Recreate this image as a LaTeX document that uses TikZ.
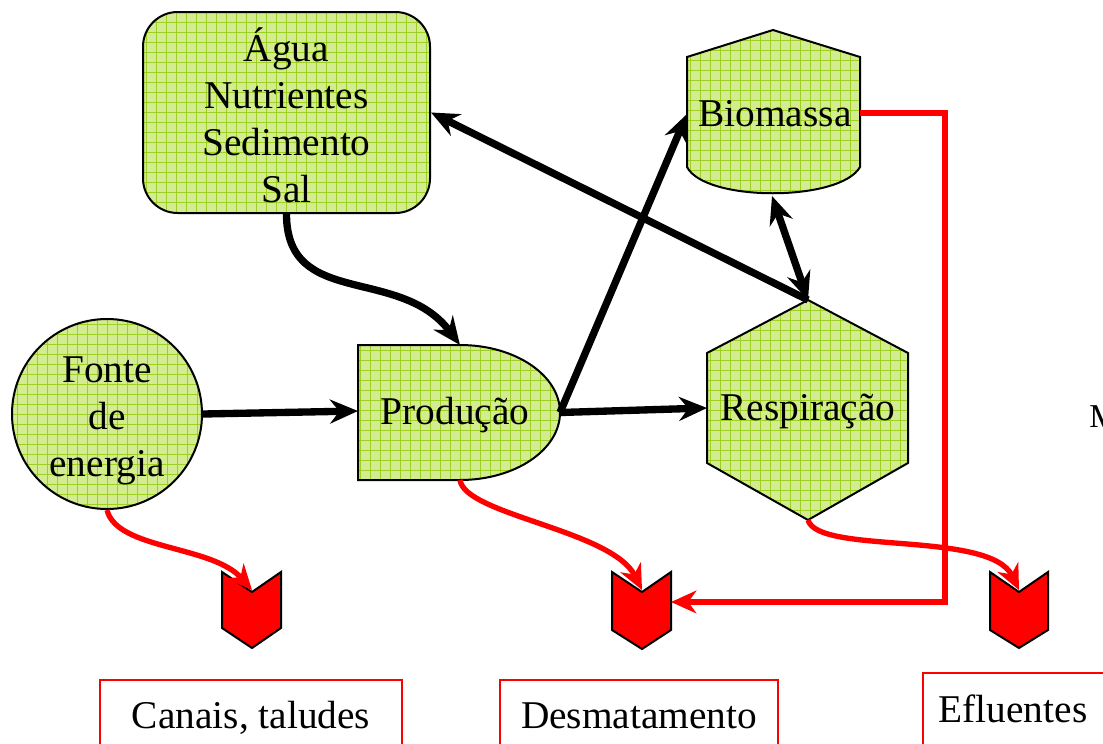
\documentclass[tikz,border=0pt]{standalone}
\usepackage{fontspec}
\setmainfont{Liberation Serif}
\usetikzlibrary{arrows.meta}
\definecolor{fillg}{RGB}{212,236,145}
\definecolor{gridg}{RGB}{158,208,35}
\definecolor{redc}{RGB}{255,0,0}
\tikzset{
  greenshape/.style={draw=black, line width=1.5pt, fill=fillg,
    path picture={\draw[gridg, line width=0.5pt] (path picture bounding box.south west) grid[step=7.5pt] (path picture bounding box.north east);}},
  lbl/.style={font=\fontsize{29.5}{35.25}\selectfont, align=center, inner sep=0pt},
  flow/.style={line width=5.5pt, -{Stealth[length=21pt,width=18pt,inset=7pt]}},
  flowboth/.style={line width=5.5pt, {Stealth[length=21pt,width=18pt,inset=7pt]}-{Stealth[length=21pt,width=18pt,inset=7pt]}},
  redflow/.style={redc, line width=4pt, -{Stealth[length=19pt,width=17pt,inset=6pt]}},
  chev/.style={fill=redc, draw=black, line width=1.5pt, line join=miter},
  redbox/.style={draw=redc, line width=1.2pt},
  btxt/.style={font=\fontsize{29.5}{35.25}\selectfont, anchor=base, inner sep=0pt}
}
\begin{document}
\begin{tikzpicture}[x=0.75pt,y=-0.75pt]
\useasboundingbox (0,0) rectangle (1103,743);
\clip (0,0) rectangle (1103,743);

% Agua
\node[greenshape, rounded corners=26pt, minimum width=215.25pt, minimum height=150.75pt] (agua) at (286.5,112.5) {};
\node[lbl] (aguatxt) at (286.5,115) {Água\\Nutrientes\\Sedimento\\Sal};

% Fonte
\node[greenshape, circle, minimum size=142.5pt] (fonte) at (107,414) {};
\node[lbl] (fontetxt) at (107,421) {Fonte\\de\\energia};

% Producao
\path[greenshape] (358,345) -- (460,345) arc[start angle=90,end angle=-90,x radius=75pt,y radius=50.625pt] -- (358,480) -- cycle;
\node[lbl] (prod) at (455,415) {Produção};
\coordinate (prodW) at (358,411);
\coordinate (prodE) at (560,412.5);
\coordinate (prodN) at (460,345);
\coordinate (prodS) at (460,480);

% Biomassa
\path[greenshape] (687,57) -- (773,30) -- (860,57) -- (860,167) .. controls (840,202) and (705,202) .. (687,167) -- cycle;
\node[lbl] (bio) at (775,114) {Biomassa};
\coordinate (bioW) at (687,114);
\coordinate (bioE) at (860,113);
\coordinate (bioS) at (772,196);

% Respiracao
\path[greenshape] (808,300) -- (908,353) -- (908,463) -- (808,520) -- (707,463) -- (707,353) -- cycle;
\node[lbl] (resp) at (808,411) {Respiração};
\coordinate (respN) at (808,300);
\coordinate (respW) at (707,408);
\coordinate (respS) at (808,520);

% Chevrons
\path[chev] (222,572) -- (252,592) -- (281,572) -- (281,628) -- (252,648) -- (222,628) -- cycle;
\coordinate (chevA) at (252,590);
\path[chev] (612,572) -- (642,592) -- (671,572) -- (671,630) -- (642,649) -- (612,630) -- cycle;
\coordinate (chevB) at (642,590);
\coordinate (chevBE) at (671,602);
\path[chev] (990,572) -- (1019,592) -- (1048,572) -- (1048,630) -- (1019,648) -- (990,630) -- cycle;
\coordinate (chevC) at (1019,590);

% Bottom boxes
\draw[redbox] (100,680) rectangle (402,770);
\node[btxt] (canais) at (251,728) {Canais, taludes};
\draw[redbox] (500,680) rectangle (778,770);
\node[btxt] (desm) at (639,728) {Desmatamento};
\draw[redbox] (923,673) rectangle (1120,770);
\node[btxt] (eflu) at (1013,722) {Efluentes};

% partial text at right edge
\node[font=\fontsize{25}{30}\selectfont, anchor=base west, inner sep=0pt] (mtext) at (1089,427) {M};

% Black flows
\draw[flow] (fonte.east) -- (prodW);
\draw[flow] (prodE) -- (respW);
\draw[flow] (prodE) -- (bioW);
\draw[flow] (respN) -- (agua.east);
\draw[flow] (agua.south) .. controls +(0,95) and +(-60,-80) .. (prodN);
\draw[flowboth] (bioS) -- (respN);

% Red flows
\draw[redflow] (fonte.south) .. controls +(10,40) and +(-40,-45) .. (chevA);
\draw[redflow] (prodS) .. controls +(5,35) and +(-30,-60) .. (chevB);
\draw[redflow] (respS) .. controls +(10,35) and +(-29,-60) .. (chevC);
\draw[redflow] (bioE) -- ++(85,0) |- (chevBE);
\end{tikzpicture}
\end{document}
